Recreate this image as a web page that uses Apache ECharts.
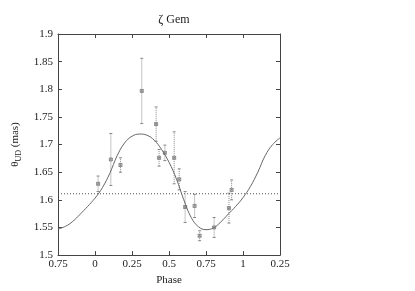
<!DOCTYPE html>
<html><head><meta charset="utf-8">
<script src="https://cdn.jsdelivr.net/npm/echarts@6/dist/echarts.min.js"></script>
<style>html,body{margin:0;padding:0;background:#fff}#c{width:415px;height:291px}</style>
</head><body><div id="c"></div>
<script>
var xTickLabels = ['0.75','0','0.25','0.5','0.75','1','0.25'];
var obsPhase = [0.021,0.107,0.172,0.316,0.413,0.433,0.472,0.535,0.569,0.609,0.673,0.707,0.805,0.905,0.923];
var obsValue = [1.629,1.673,1.663,1.797,1.737,1.676,1.685,1.676,1.637,1.587,1.589,1.535,1.550,1.585,1.618];
var obsError = [0.014,0.047,0.013,0.059,0.031,0.015,0.014,0.047,0.019,0.028,0.021,0.009,0.018,0.027,0.018];
var modelPhase = [-0.25,-0.2,-0.15,-0.1,-0.05,0,0.05,0.1,0.15,0.2,0.25,0.3,0.35,0.4,0.45,0.5,0.55,0.6,0.65,0.7,0.75,0.8,0.85,0.9,0.95,1.0,1.05,1.1,1.15,1.2,1.25];
var modelValue = [1.547,1.552,1.561,1.574,1.588,1.603,1.622,1.648,1.680,1.703,1.715,1.719,1.717,1.708,1.691,1.668,1.638,1.600,1.568,1.551,1.546,1.549,1.560,1.574,1.588,1.604,1.624,1.650,1.680,1.700,1.712];
var meanValue = 1.611;

var font = 'Liberation Serif';
var chart = echarts.init(document.getElementById('c'));
var obsData = obsPhase.map(function(p,i){return [p, obsValue[i], obsValue[i]-obsError[i], obsValue[i]+obsError[i]];});
var modelData = modelPhase.map(function(p,i){return [p, modelValue[i]];});
var axColor = '#444';
function xAxisCfg(show){
  return {type:'value', min:-0.25, max:1.25, interval:0.25, position: show?'bottom':'top',
    axisLine:{show:true, onZero:false, lineStyle:{color:axColor,width:1}},
    axisTick:{show:true, inside:true, length:4, lineStyle:{color:axColor}},
    axisLabel:{show:show, color:'#222', fontFamily:font, fontSize:11, margin:4,
      formatter:function(v){var i=Math.round((v+0.25)/0.25);return xTickLabels[i];}},
    splitLine:{show:false},
    name: show?'Phase':'', nameLocation:'middle', nameGap:17,
    nameTextStyle:{color:'#222', fontFamily:font, fontSize:11}};
}
function yAxisCfg(show){
  return {type:'value', min:1.5, max:1.9, interval:0.05, position: show?'left':'right',
    axisLine:{show:true, onZero:false, lineStyle:{color:axColor,width:1}},
    axisTick:{show:true, inside:true, length:4, lineStyle:{color:axColor}},
    axisLabel:{show:show, color:'#222', fontFamily:font, fontSize:11, margin:5,
      formatter:function(v){return String(Math.round(v*100)/100);}},
    splitLine:{show:false},
    name: show?'{a|θ}{b|UD}{a| (mas)}':'', nameLocation:'middle', nameGap:33, nameRotate:90,
    nameTextStyle:{color:'#222', fontFamily:font, fontSize:11,
      rich:{a:{fontFamily:font,fontSize:11,color:'#222',lineHeight:16,verticalAlign:'middle'},
            b:{fontFamily:font,fontSize:8,color:'#222',lineHeight:16,verticalAlign:'bottom',padding:[6,0,0,0]}}}};
}
chart.setOption({
  animation:false,
  title:{text:'ζ Gem', left:169, top:9, textAlign:'center',
    textStyle:{fontFamily:font, fontSize:12, fontWeight:'normal', color:'#222'}},
  grid:{left:58, right:135, top:34, bottom:35},
  xAxis:[xAxisCfg(true), xAxisCfg(false)],
  yAxis:[yAxisCfg(true), yAxisCfg(false)],
  series:[
    {type:'line', data:[[-0.25,meanValue],[1.25,meanValue]], symbol:'none',
     lineStyle:{color:'#555', width:1, type:[1,2]}, silent:true},
    {type:'line', data:modelData, smooth:0.4, symbol:'none',
     lineStyle:{color:'#666', width:1}, silent:true},
    {type:'custom', data:obsData,
     renderItem:function(params, api){
       var x = api.value(0);
       var c = api.coord([x, api.value(1)]);
       var lo = api.coord([x, api.value(2)]);
       var hi = api.coord([x, api.value(3)]);
       var st = {stroke:'#8a8a8a', lineWidth:1, lineDash:[1,1]};
       var cs = {stroke:'#888', lineWidth:1};
       var ms = {stroke:'#777', lineWidth:0.8};
       return {type:'group', children:[
         {type:'line', shape:{x1:lo[0],y1:lo[1],x2:hi[0],y2:hi[1]}, style:st},
         {type:'line', shape:{x1:lo[0]-1.5,y1:lo[1],x2:lo[0]+1.5,y2:lo[1]}, style:cs},
         {type:'line', shape:{x1:hi[0]-1.5,y1:hi[1],x2:hi[0]+1.5,y2:hi[1]}, style:cs},
         {type:'rect', shape:{x:c[0]-1.5,y:c[1]-1.5,width:3,height:3}, style:{stroke:'#777', lineWidth:0.8, fill:null}},
         {type:'line', shape:{x1:c[0]-1.5,y1:c[1]-1.5,x2:c[0]+1.5,y2:c[1]+1.5}, style:ms},
         {type:'line', shape:{x1:c[0]-1.5,y1:c[1]+1.5,x2:c[0]+1.5,y2:c[1]-1.5}, style:ms}
       ]};
     }}
  ]
});
</script></body></html>
